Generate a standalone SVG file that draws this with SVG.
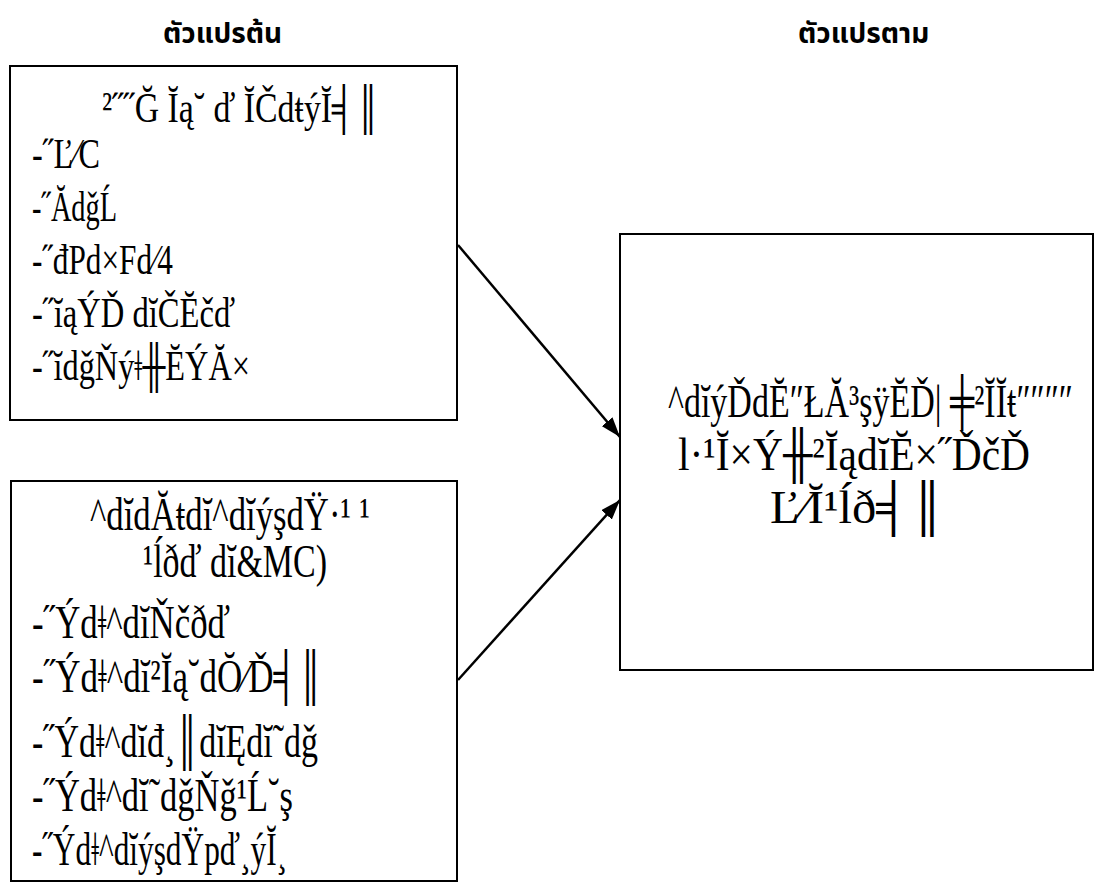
<svg xmlns="http://www.w3.org/2000/svg" width="1096" height="889" viewBox="0 0 1096 889">
<style>
.box{fill:#fff;stroke:#000;stroke-width:2}
.hd{font-family:"Noto Sans Thai","Noto Sans",sans-serif;font-weight:bold;font-size:28px;fill:#000}
.t{font-family:"Liberation Serif",serif;font-size:42px;fill:#000}
.t2{font-family:"Liberation Serif",serif;font-size:47px;fill:#000}
.ln{stroke:#000;stroke-width:2.5;fill:none}
</style>
<defs>
<marker id="ah" viewBox="0 0 20 14" refX="20" refY="7" markerWidth="20" markerHeight="14" markerUnits="userSpaceOnUse" orient="auto">
<path d="M0,0 L20,7 L0,14 Z" fill="#000"/>
</marker>
</defs>
<rect width="1096" height="889" fill="#fff"/>
<g id="headers">
<text class="hd" x="163" y="43">ตัวแปรต้น</text>
<text class="hd" x="798" y="43">ตัวแปรตาม</text>
</g>
<g id="independent1">
<rect class="box" x="10" y="66" width="447" height="354"/>
<text class="t" x="102" y="122" textLength="278" lengthAdjust="spacingAndGlyphs">²˝˝Ğ Ĭą˘ ď ĬČdŧýĬ╡║</text>
<text class="t" x="32" y="168" textLength="68" lengthAdjust="spacingAndGlyphs">-˝Ľ⁄C</text>
<text class="t" x="32" y="221" textLength="85" lengthAdjust="spacingAndGlyphs">-˝ĂdǧĹ</text>
<text class="t" x="32" y="274" textLength="141" lengthAdjust="spacingAndGlyphs">-˝đPd×Fd⁄4</text>
<text class="t" x="32" y="327" textLength="203" lengthAdjust="spacingAndGlyphs">-˝ĭąÝĎ dĭČĔčď</text>
<text class="t" x="32" y="380" textLength="218" lengthAdjust="spacingAndGlyphs">-˝ĭdǧŇýǂ╫ĔÝĂ×</text>
</g>
<g id="independent2">
<rect class="box" x="11" y="481" width="446" height="400"/>
<text class="t2" x="90" y="530" textLength="280" lengthAdjust="spacingAndGlyphs">^dĭdĂŧdĭ^dĭýşdŸ·¹ ¹</text>
<text class="t2" x="143" y="577" textLength="184" lengthAdjust="spacingAndGlyphs">¹ĺðď dĭ&amp;MC)</text>
<text class="t2" x="32" y="638" textLength="198" lengthAdjust="spacingAndGlyphs">-˝Ýdǂ^dĭŇčðď</text>
<text class="t2" x="32" y="692" textLength="291" lengthAdjust="spacingAndGlyphs">-˝Ýdǂ^dĭ²Ĭą˘dŎ⁄Ď╡║</text>
<text class="t2" x="32" y="757" textLength="286" lengthAdjust="spacingAndGlyphs">-˝Ýdǂ^dĭđ¸║dĭĘdĭ˜dǧ</text>
<text class="t2" x="32" y="811" textLength="261" lengthAdjust="spacingAndGlyphs">-˝Ýdǂ^dĭ˜dǧŇǧ¹Ĺ˘ş</text>
<text class="t2" x="32" y="865" textLength="255" lengthAdjust="spacingAndGlyphs">-˝Ýdǂ^dĭýşdŸpď¸ýĬ¸</text>
</g>
<g id="dependent">
<rect class="box" x="620" y="234" width="473" height="436"/>
<text class="t2" x="668" y="417" textLength="405" lengthAdjust="spacingAndGlyphs">^dĭýĎdĔ″ŁĂ³şÿĔĎ| ╪²ĬĬŧ″″″″</text>
<text class="t2" x="678" y="470" textLength="352" lengthAdjust="spacingAndGlyphs">l·¹Ĭ×Ý╫²ĬądĭĔ×˝ĎčĎ</text>
<text class="t2" x="770" y="523" textLength="175" lengthAdjust="spacingAndGlyphs">Ľ⁄Ĭ¹ĺð╡║</text>
</g>
<g id="connectors">
<line class="ln" x1="458" y1="245" x2="620" y2="437" marker-end="url(#ah)"/>
<line class="ln" x1="458" y1="680" x2="620" y2="500" marker-end="url(#ah)"/>
</g>
</svg>
